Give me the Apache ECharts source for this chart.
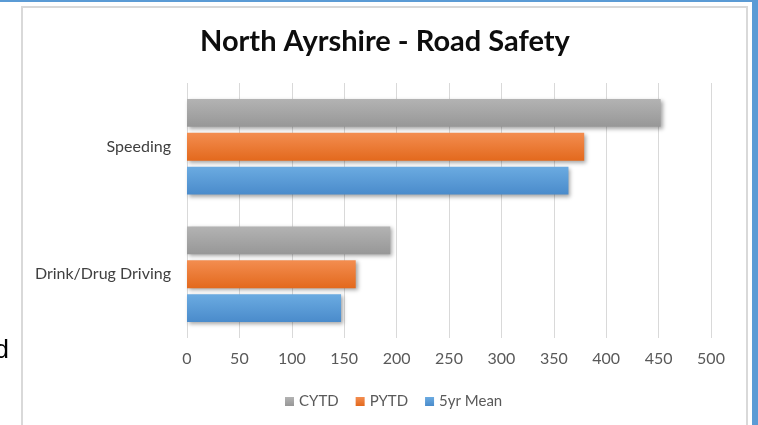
<!DOCTYPE html>
<html lang="en">
<head>
    <meta charset="UTF-8">
    <script src="https://cdn.jsdelivr.net/npm/echarts@6/dist/echarts.min.js"></script>
    <title>North Ayrshire - Road Safety</title>
    <style>
        html, body { margin: 0; padding: 0; background: #fff; }
    </style>
</head>
<body>
<div id="chart" style="width:758px;height:425px;"></div>
<script>
    // categories bottom -> top
    var categories = ['Drink/Drug Driving', 'Speeding'];
    var seriesNames = ['CYTD', 'PYTD', '5yr Mean'];
    var cytd = [194, 452];
    var pytd = [161, 379];
    var fiveYrMean = [147, 364];

    var myChart = echarts.init(document.getElementById('chart'));

    function grad(top, bottom) {
        return new echarts.graphic.LinearGradient(0, 0, 0, 1, [
            {offset: 0, color: top},
            {offset: 1, color: bottom}
        ]);
    }

    function barSeries(name, data, top, bottom) {
        return {
            name: name,
            type: 'bar',
            data: data,
            barCategoryGap: '25%',
            barGap: '22%',
            itemStyle: {
                color: grad(top, bottom),
                shadowColor: 'rgba(0,0,0,0.35)',
                shadowBlur: 4,
                shadowOffsetX: 2,
                shadowOffsetY: 2
            }
        };
    }

    var labelFont = 'Lato, "Open Sans", sans-serif';

    var option = {
        animation: false,
        backgroundColor: '#fff',
        title: {
            text: 'North Ayrshire - Road Safety',
            left: 200,
            top: 22,
            padding: [5, 0, 5, 0],
            textStyle: {
                fontFamily: labelFont,
                fontWeight: 'bold',
                fontSize: 29,
                color: '#0d0d0d'
            }
        },
        graphic: [
            {type: 'rect', shape: {x: 0, y: 0, width: 758, height: 2}, style: {fill: '#5b9bd5'}},
            {type: 'rect', shape: {x: 752, y: 0, width: 6, height: 425}, style: {fill: '#5b9bd5'}},
            {type: 'rect', shape: {x: 22, y: 7, width: 725, height: 430},
                style: {fill: 'none', stroke: '#d9d9d9', lineWidth: 2}},
            {type: 'text', x: 9, y: 351,
                style: {text: 'd', textAlign: 'right', textVerticalAlign: 'middle',
                    font: '26px "Liberation Sans", Arial, sans-serif', fill: '#000'}}
        ],
        legend: {
            data: seriesNames,
            left: 280,
            top: 389,
            icon: 'rect',
            itemWidth: 9,
            itemHeight: 9,
            itemGap: 17,
            textStyle: {fontFamily: labelFont, fontSize: 15, color: '#595959'}
        },
        grid: {
            left: 187,
            right: 47,
            top: 83,
            bottom: 87
        },
        xAxis: {
            type: 'value',
            min: 0,
            max: 500,
            interval: 50,
            axisLine: {show: false},
            axisTick: {show: false},
            splitLine: {lineStyle: {color: '#d9d9d9', width: 1}},
            axisLabel: {margin: 13, fontFamily: labelFont, fontSize: 16, color: '#595959'}
        },
        yAxis: {
            type: 'category',
            data: categories,
            axisLine: {show: false},
            axisTick: {show: false},
            axisLabel: {margin: 16, fontFamily: labelFont, fontSize: 16, color: '#404040'}
        },
        series: [
            barSeries('CYTD', cytd, '#b3b3b3', '#979797'),
            barSeries('PYTD', pytd, '#f38d50', '#e3691d'),
            barSeries('5yr Mean', fiveYrMean, '#6babe1', '#4a8bcb')
        ]
    };
    myChart.setOption(option);
</script>
</body>
</html>
